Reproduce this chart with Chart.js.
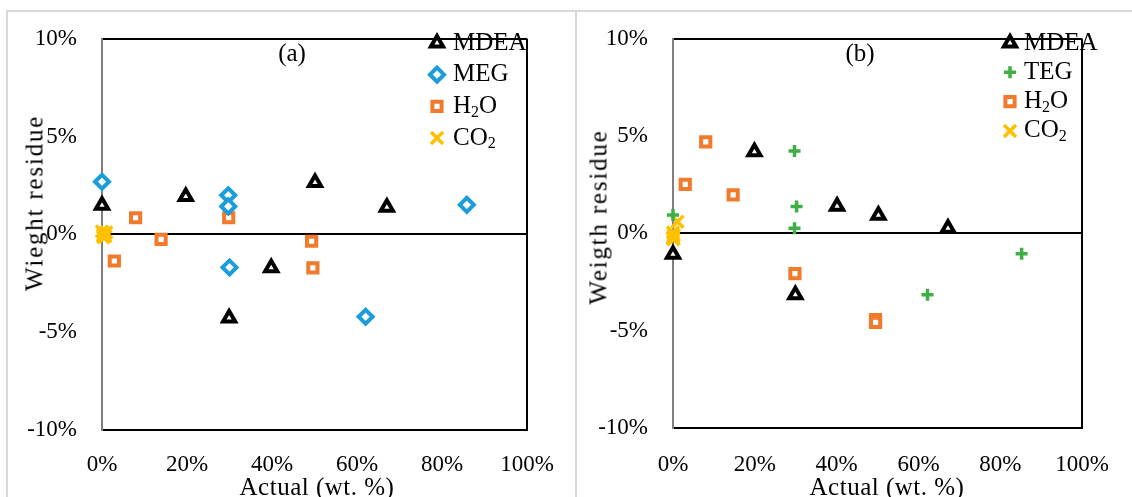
<!DOCTYPE html>
<html>
<head>
<meta charset="utf-8">
<script src="https://cdn.jsdelivr.net/npm/chart.js@4.4.1/dist/chart.umd.min.js"></script>
<style>
  html, body { margin: 0; padding: 0; background: #fff; }
  body { width: 1132px; height: 497px; position: relative; overflow: hidden; font-family: "Liberation Serif", serif; color: #000; }
  .frameTop { position: absolute; left: 6px; top: 10px; width: 1126px; height: 2px; background: #d9d9d9; }
  .frameLeft { position: absolute; left: 6px; top: 10px; width: 2px; height: 487px; background: #d9d9d9; }
  .frameMid { position: absolute; left: 575px; top: 10px; width: 2px; height: 487px; background: #d9d9d9; }
  .panel { position: absolute; top: 0; height: 497px; }
  .ytitle { position: absolute; white-space: nowrap; font-size: 25px; line-height: 25px; letter-spacing: 1.8px; transform: translate(-50%, -50%) rotate(-90deg); }
  .xtitle { position: absolute; white-space: nowrap; font-size: 25px; line-height: 25px; letter-spacing: 0.5px; transform: translateX(-50%); }
  .plabel { position: absolute; white-space: nowrap; font-size: 25px; line-height: 25px; transform: translateX(-50%); }
</style>
</head>
<body>
<div class="frameTop"></div>
<div class="frameLeft"></div>
<div class="frameMid"></div>
<div class="panel" style="left:0;width:575px"><canvas id="chartA" width="575" height="497"></canvas></div>
<div class="panel" style="left:577px;width:555px"><canvas id="chartB" width="555" height="497"></canvas></div>
<div class="ytitle" style="left:34px;top:203px">Wieght residue</div>
<div class="ytitle" style="left:598px;top:217px">Weigth residue</div>
<div class="xtitle" style="left:317px;top:474px">Actual (wt. %)</div>
<div class="xtitle" style="left:887px;top:474px">Actual (wt. %)</div>
<div class="plabel" style="left:292px;top:40px">(a)</div>
<div class="plabel" style="left:860px;top:40px">(b)</div>
<script>
// ---------- data (percent units) ----------
const xTickValues = [0, 20, 40, 60, 80, 100];
const yTickValues = [-10, -5, 0, 5, 10];

// Panel (a)
const a_MDEA_x = [0, 19.7, 50.1, 67.0, 39.8, 29.9];
const a_MDEA_y = [1.49, 1.94, 2.65, 1.39, -1.71, -4.28];
const a_MEG_x  = [0, 29.7, 29.7, 85.8, 30.0, 62.0];
const a_MEG_y  = [2.69, 2.00, 1.43, 1.51, -1.69, -4.21];
const a_H2O_x  = [7.9, 29.8, 13.9, 49.3, 2.9, 49.6];
const a_H2O_y  = [0.85, 0.85, -0.25, -0.35, -1.36, -1.71];
const a_CO2_x  = [0, 0.3, 0.6, 1.0, 0.2, 0.8];
const a_CO2_y  = [0.15, -0.15, 0.05, 0.10, -0.05, -0.10];

// Panel (b)
const b_MDEA_x = [19.9, 40.1, 50.2, 67.2, 0, 29.9];
const b_MDEA_y = [4.20, 1.40, 0.93, 0.27, -1.07, -3.15];
const b_TEG_x  = [29.7, 30.2, 29.7, 0, 85.2, 62.2];
const b_TEG_y  = [4.23, 1.38, 0.27, 0.95, -1.05, -3.15];
const b_H2O_x  = [8.0, 3.0, 14.7, 29.8, 49.5, 49.5];
const b_H2O_y  = [4.70, 2.52, 1.98, -2.07, -4.43, -4.57];
const b_CO2_x  = [1.1, 0, 0.2, 0, 0.1, 0];
const b_CO2_y  = [0.60, 0.05, -0.10, -0.20, -0.30, -0.25];

const pts = (xs, ys) => xs.map((x, i) => ({ x: x, y: ys[i] }));

const COL = { black: '#000000', blue: '#1B9DDC', orange: '#F27A2C', yellow: '#FFC000', green: '#3FAE45' };
const FONT = '"Liberation Serif", serif';

function ds(label, data, color, style, radius, fill, bw) {
  return {
    label: label, data: data, showLine: false, clip: false,
    pointStyle: style, pointRadius: radius, pointHoverRadius: radius,
    borderColor: color, backgroundColor: fill, pointBorderWidth: bw, borderWidth: bw,
    pointBackgroundColor: fill, pointBorderColor: color
  };
}

// legend drawn inside the plot area
const innerLegend = {
  id: 'innerLegend',
  afterDatasetsDraw(chart, args, opts) {
    const ctx = chart.ctx;
    ctx.save();
    chart.data.datasets.forEach((d, i) => {
      const y = opts.y + i * opts.step;
      ctx.strokeStyle = d.borderColor;
      ctx.fillStyle = d.backgroundColor;
      ctx.lineWidth = d.pointBorderWidth;
      const po = { pointStyle: d.pointStyle, radius: d.pointRadius, rotation: 0, borderWidth: d.pointBorderWidth };
      if (Chart.helpers && Chart.helpers.drawPoint) {
        Chart.helpers.drawPoint(ctx, po, opts.x, y);
      }
      let x = opts.textX;
      const big = opts.size + 'px ' + FONT;
      const small = Math.round(opts.size * 0.62) + 'px ' + FONT;
      ctx.fillStyle = '#000';
      ctx.textBaseline = 'middle';
      ctx.textAlign = 'left';
      d.label.split(/(\d)/).forEach(part => {
        if (!part) return;
        if (/^\d$/.test(part)) {
          ctx.font = small;
          ctx.fillText(part, x, y + 6);
        } else {
          ctx.font = big;
          ctx.fillText(part, x, y);
        }
        x += ctx.measureText(part).width;
      });
    });
    ctx.restore();
  }
};

function makeOptions(yWidth, xHeight, padRight, xPad, legendCfg) {
  return {
    responsive: false,
    animation: false,
    devicePixelRatio: 1,
    layout: { padding: { left: 0, top: 28, right: padRight, bottom: 0 } },
    plugins: {
      legend: { display: false },
      tooltip: { enabled: false },
      innerLegend: legendCfg
    },
    scales: {
      x: {
        type: 'linear', min: 0, max: 100, position: 'bottom',
        afterBuildTicks: s => { s.ticks = xTickValues.map(v => ({ value: v })); },
        ticks: { callback: v => v + '%', color: '#000', font: { family: FONT, size: 23 }, padding: xPad, maxRotation: 0 },
        grid: {
          drawTicks: false, lineWidth: 2,
          color: c => c.tick && c.tick.value === 100 ? '#000' : (c.tick && c.tick.value === 0 ? '#808080' : 'rgba(0,0,0,0)')
        },
        border: { display: true, color: '#000', width: 2 },
        afterFit: s => { s.height = xHeight; }
      },
      y: {
        type: 'linear', min: -10, max: 10, position: 'left',
        afterBuildTicks: s => { s.ticks = yTickValues.map(v => ({ value: v })); },
        ticks: { callback: v => v + '%', color: '#000', font: { family: FONT, size: 23 }, padding: 25 },
        grid: {
          drawTicks: false, lineWidth: 2,
          color: c => c.tick && (c.tick.value === 0 || c.tick.value === 10) ? '#000' : 'rgba(0,0,0,0)'
        },
        border: { display: true, color: '#808080', width: 2 },
        afterFit: s => { s.width = yWidth; }
      }
    }
  };
}

new Chart(document.getElementById('chartA'), {
  type: 'scatter',
  data: {
    datasets: [
      ds('MDEA', pts(a_MDEA_x, a_MDEA_y), COL.black, 'triangle', 7, '#ffffff', 4),
      ds('MEG', pts(a_MEG_x, a_MEG_y), COL.blue, 'rectRot', 7, '#ffffff', 4),
      ds('H2O', pts(a_H2O_x, a_H2O_y), COL.orange, 'rect', 6.5, '#ffffff', 4),
      ds('CO2', pts(a_CO2_x, a_CO2_y), COL.yellow, 'crossRot', 8.5, COL.yellow, 3.5)
    ]
  },
  options: makeOptions(102, 67, 43, 21, { x: 437, textX: 453, y: 43, step: 31.7, size: 25 }),
  plugins: [innerLegend]
});

new Chart(document.getElementById('chartB'), {
  type: 'scatter',
  data: {
    datasets: [
      ds('MDEA', pts(b_MDEA_x, b_MDEA_y), COL.black, 'triangle', 7, '#ffffff', 4),
      ds('TEG', pts(b_TEG_x, b_TEG_y), COL.green, 'cross', 6, COL.green, 3.5),
      ds('H2O', pts(b_H2O_x, b_H2O_y), COL.orange, 'rect', 6.5, '#ffffff', 4),
      ds('CO2', pts(b_CO2_x, b_CO2_y), COL.yellow, 'crossRot', 8.5, COL.yellow, 3.5)
    ]
  },
  options: makeOptions(96, 69, 31, 23, { x: 1010 - 577, textX: 1024 - 577, y: 43, step: 29.3, size: 25 }),
  plugins: [innerLegend]
});
</script>
</body>
</html>
